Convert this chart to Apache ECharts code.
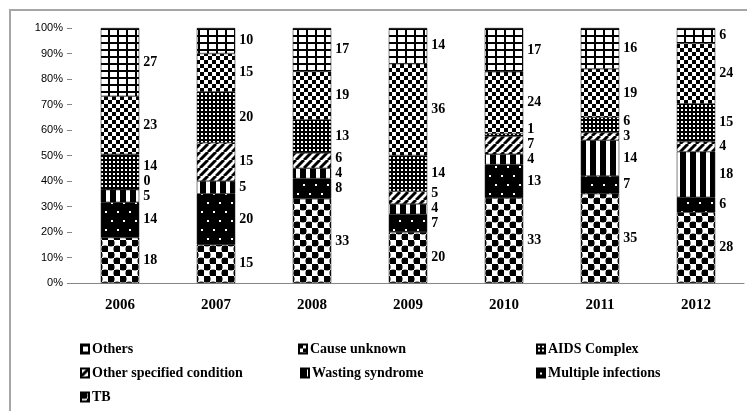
<!DOCTYPE html>
<html>
<head>
<meta charset="utf-8">
<script src="https://cdn.jsdelivr.net/npm/echarts@6/dist/echarts.min.js"></script>
<style>
  html, body { margin: 0; padding: 0; background: #fff; overflow: hidden; }
  #frame { position: absolute; left: 9px; top: 9px; width: 900px; height: 600px;
           border-left: 2px solid #a6a6a6; border-top: 2px solid #a6a6a6; }
  #chart { position: absolute; left: 0; top: 0; width: 747px; height: 411px; }
</style>
</head>
<body>
<div id="frame"></div>
<div id="chart"></div>
<script>
const years = ['2006', '2007', '2008', '2009', '2010', '2011', '2012']
const tb = [18, 15, 33, 20, 33, 35, 28]
const multipleInfections = [14, 20, 8, 7, 13, 7, 6]
const wastingSyndrome = [5, 5, 4, 4, 4, 14, 18]
const otherSpecified = [0, 15, 6, 5, 7, 3, 4]
const aidsComplex = [14, 20, 13, 14, 1, 6, 15]
const causeUnknown = [23, 15, 19, 36, 24, 19, 24]
const others = [27, 10, 17, 14, 17, 16, 6]
const yTicks = [0, 10, 20, 30, 40, 50, 60, 70, 80, 90, 100]

// stacking order: bottom first
const names = ['TB', 'Multiple infections', 'Wasting syndrome', 'Other specified condition',
  'AIDS Complex', 'Cause unknown', 'Others']
const raw = [tb, multipleInfections, wastingSyndrome, otherSpecified, aidsComplex, causeUnknown, others]

// black & white fill patterns
function tile(w, h, draw) {
  const c = document.createElement('canvas')
  c.width = w; c.height = h
  const g = c.getContext('2d')
  g.fillStyle = '#fff'
  g.fillRect(0, 0, w, h)
  g.fillStyle = '#000'
  g.strokeStyle = '#000'
  draw(g, w, h)
  return { image: c, repeat: 'repeat' }
}
const patterns = [
  // TB - rounded checker
  tile(12, 12, g => {
    g.fillRect(0, 0, 6, 6); g.fillRect(6, 6, 6, 6)
    g.beginPath(); g.arc(3, 3, 3.6, 0, Math.PI * 2); g.fill()
    g.beginPath(); g.arc(9, 9, 3.6, 0, Math.PI * 2); g.fill()
    g.fillStyle = '#fff'
    g.beginPath(); g.arc(9, 3, 2.2, 0, Math.PI * 2); g.fill()
    g.beginPath(); g.arc(3, 9, 2.2, 0, Math.PI * 2); g.fill()
  }),
  // Multiple infections - black with sparse white dots
  tile(12, 18, g => {
    g.fillRect(0, 0, 12, 18)
    g.fillStyle = '#fff'
    g.fillRect(3, 4, 2, 2); g.fillRect(9, 13, 2, 2)
  }),
  // Wasting syndrome - vertical stripes
  tile(10, 4, g => { g.fillRect(0, 0, 6, 4) }),
  // Other specified condition - diagonal stripes
  tile(8, 8, g => {
    g.lineWidth = 3
    for (const o of [-8, 0, 8]) {
      g.beginPath(); g.moveTo(o, 8); g.lineTo(o + 8, 0); g.stroke()
    }
  }),
  // AIDS Complex - dense small grid
  tile(4, 4, g => {
    g.fillRect(0, 0, 4, 4)
    g.fillStyle = '#fff'
    g.fillRect(1, 1, 2, 2)
  }),
  // Cause unknown - checkerboard
  tile(8, 8, g => { g.fillRect(0, 0, 4, 4); g.fillRect(4, 4, 4, 4) }),
  // Others - grid
  tile(9, 7, g => { g.fillRect(0, 0, 2, 7); g.fillRect(0, 0, 9, 2) })
]

const totals = years.map((_, i) => raw.reduce((s, arr) => s + arr[i], 0))

// push a bar's labels upward when they would overlap the one below (like Excel)
const lastTop = {}
function pushUp(params) {
  const r = params.labelRect
  if (params.seriesIndex === 0) lastTop[params.dataIndex] = Infinity
  const limit = lastTop[params.dataIndex]
  let dy = 0
  if (r.y + r.height + 1 > limit) dy = limit - (r.y + r.height + 1)
  lastTop[params.dataIndex] = r.y + dy
  return { dy }
}

// legend: one component per entry so the three columns line up
const legendSlots = [
  ['Others', 80, 342], ['Cause unknown', 298, 342], ['AIDS Complex', 536, 342],
  ['Other specified condition', 80, 366], ['Wasting syndrome', 300, 366], ['Multiple infections', 536, 366],
  ['TB', 80, 390]
]
const legends = legendSlots.map(([name, left, top]) => ({
  left, top, padding: 0, data: [name],
  itemWidth: 8, itemHeight: 9, icon: 'rect', selectedMode: false,
  textStyle: { fontFamily: 'Liberation Serif', fontWeight: 'bold', fontSize: 14, color: '#000', padding: [0, 0, 0, -2] }
}))

const chart = echarts.init(document.getElementById('chart'))
chart.setOption({
  animation: false,
  backgroundColor: 'transparent',
  grid: { left: 72, right: 3, top: 28, bottom: 128 },
  legend: legends,
  xAxis: {
    type: 'category',
    data: years,
    axisLine: { lineStyle: { color: '#868686' } },
    axisTick: { length: 5, lineStyle: { color: '#868686' } },
    axisLabel: { margin: 15, fontFamily: 'Liberation Serif', fontWeight: 'bold', fontSize: 15, color: '#000' }
  },
  yAxis: {
    type: 'value',
    min: yTicks[0], max: yTicks[yTicks.length - 1], interval: 10,
    splitLine: { show: false },
    axisLine: { show: false },
    axisTick: { show: true, length: 5, lineStyle: { color: '#868686' } },
    axisLabel: { margin: 9, formatter: '{value}%', fontFamily: 'Liberation Sans', fontSize: 11, color: '#000' }
  },
  series: names.map((name, si) => ({
    name,
    type: 'bar',
    stack: 'total',
    barWidth: '40%',
    data: raw[si].map((v, i) => v / totals[i] * 100),
    itemStyle: { color: patterns[si], borderColor: '#000', borderWidth: 0.5 },
    labelLayout: pushUp,
    label: {
      show: true,
      position: 'right',
      distance: 4,
      fontFamily: 'Liberation Serif',
      fontWeight: 'bold',
      fontSize: 14,
      color: '#000',
      formatter: p => String(raw[si][p.dataIndex])
    }
  }))
})
</script>
</body>
</html>
